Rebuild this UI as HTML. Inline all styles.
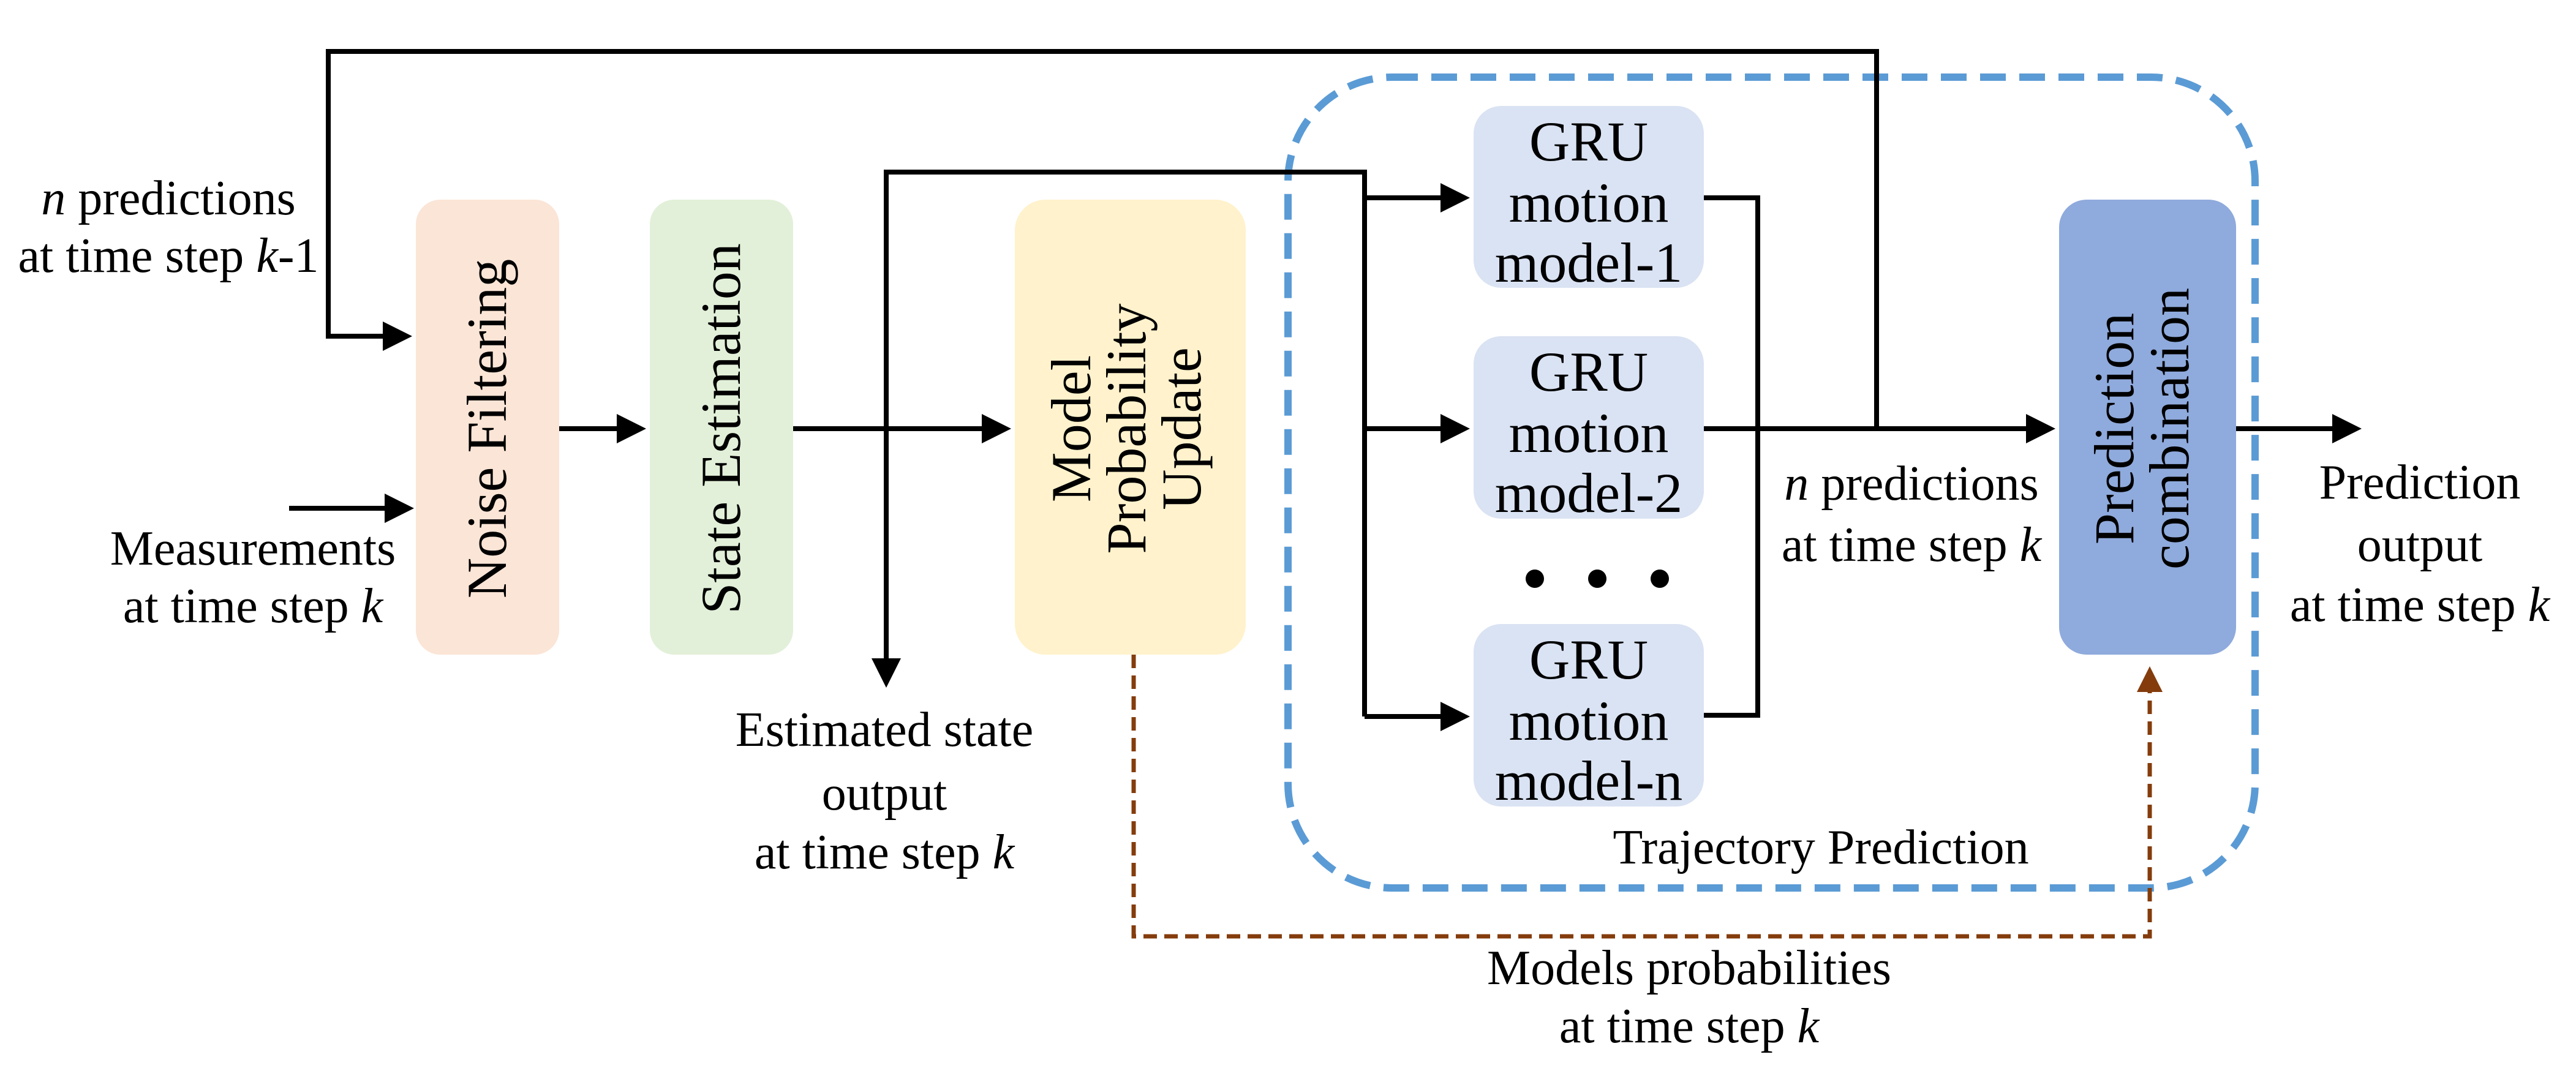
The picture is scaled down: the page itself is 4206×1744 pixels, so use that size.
<!DOCTYPE html>
<html><head><meta charset="utf-8"><style>html,body{margin:0;padding:0;background:#fff}svg{display:block}svg text{font-family:"Liberation Serif","DejaVu Serif","Noto Serif CJK SC",serif !important}</style></head>
<body>
<svg width="4206" height="1744" viewBox="0 0 4206 1744" xmlns="http://www.w3.org/2000/svg" style="font-family:'Liberation Serif','DejaVu Serif',serif">
<defs>
<marker id="a" markerWidth="6" markerHeight="6" refX="5" refY="3" orient="auto" markerUnits="strokeWidth"><path d="M0,0 L6,3 L0,6 z" fill="#000"/></marker>
<marker id="b" markerWidth="6" markerHeight="6" refX="5" refY="3" orient="auto" markerUnits="strokeWidth"><path d="M0,0 L6,3 L0,6 z" fill="#843c0c"/></marker>
</defs>
<rect x="679" y="326" width="234" height="743" rx="40" fill="#fbe5d6"/>
<rect x="1061" y="326" width="234" height="743" rx="40" fill="#e2f0d9"/>
<rect x="1657" y="326" width="377" height="743" rx="50" fill="#fff2cc"/>
<rect x="2406" y="173" width="376" height="297" rx="45" fill="#dae3f3"/>
<rect x="2406" y="549" width="376" height="298" rx="45" fill="#dae3f3"/>
<rect x="2406" y="1019" width="376" height="298" rx="45" fill="#dae3f3"/>
<rect x="3362" y="326" width="289" height="743" rx="45" fill="#8faadc"/>
<rect x="2103" y="126" width="1579" height="1324" rx="170" fill="none" stroke="#5b9bd5" stroke-width="12" stroke-dasharray="42 22"/>
<g stroke="#000" stroke-width="8" fill="none">
<path d="M3064,700 V84 H536 V549 H665" marker-end="url(#a)"/>
<path d="M472,830 H668" marker-end="url(#a)"/>
<path d="M913,700 H1047" marker-end="url(#a)"/>
<path d="M1295,700 H1643" marker-end="url(#a)"/>
<path d="M1447,1108 V281 H2228 V1170"/>
<path d="M2228,323 H2392" marker-end="url(#a)"/>
<path d="M2228,700 H2392" marker-end="url(#a)"/>
<path d="M2228,1170 H2392" marker-end="url(#a)"/>
<path d="M1447,1080 V1115" marker-end="url(#a)"/>
<path d="M2782,323 H2870 V1168 H2782"/>
<path d="M2782,700 H3348" marker-end="url(#a)"/>
<path d="M3651,700 H3848" marker-end="url(#a)"/>
</g>
<path d="M1851,1069 V1529 H3510 V1095" stroke="#843c0c" stroke-width="7" fill="none" stroke-dasharray="22 12" marker-end="url(#b)"/>
<circle cx="2506" cy="945" r="15"/><circle cx="2608" cy="945" r="15"/><circle cx="2710" cy="945" r="15"/>
<g font-size="80" text-anchor="middle" fill="#000">
<text x="275" y="350"><tspan font-style="italic">n</tspan> predictions</text>
<text x="275" y="444">at time step <tspan font-style="italic">k</tspan>-1</text>
<text x="413" y="922">Measurements</text>
<text x="413" y="1016">at time step <tspan font-style="italic">k</tspan></text>
<text x="1444" y="1218">Estimated state</text>
<text x="1444" y="1322">output</text>
<text x="1444" y="1418">at time step <tspan font-style="italic">k</tspan></text>
<text x="3121" y="816"><tspan font-style="italic">n</tspan> predictions</text>
<text x="3121" y="916">at time step <tspan font-style="italic">k</tspan></text>
<text x="3951" y="814">Prediction</text>
<text x="3951" y="916">output</text>
<text x="3951" y="1014">at time step <tspan font-style="italic">k</tspan></text>
<text x="2973" y="1410">Trajectory Prediction</text>
<text x="2758" y="1607">Models probabilities</text>
<text x="2758" y="1702">at time step <tspan font-style="italic">k</tspan></text>
</g>
<g font-size="92" text-anchor="middle" fill="#000">
<text x="2594" y="262">GRU</text><text x="2594" y="362">motion</text><text x="2594" y="460">model-1</text>
<text x="2594" y="638">GRU</text><text x="2594" y="738">motion</text><text x="2594" y="836">model-2</text>
<text x="2594" y="1108">GRU</text><text x="2594" y="1208">motion</text><text x="2594" y="1306">model-n</text>
<text transform="translate(826,700) rotate(-90)">Noise Filtering</text>
<text transform="translate(1208,700) rotate(-90)">State Estimation</text>
<text transform="translate(1780,700) rotate(-90)">Model</text>
<text transform="translate(1870,700) rotate(-90)">Probability</text>
<text transform="translate(1960,700) rotate(-90)">Update</text>
<text transform="translate(3483,700) rotate(-90)">Prediction</text>
<text transform="translate(3573,700) rotate(-90)">combination</text>
</g>
</svg>
</body></html>
